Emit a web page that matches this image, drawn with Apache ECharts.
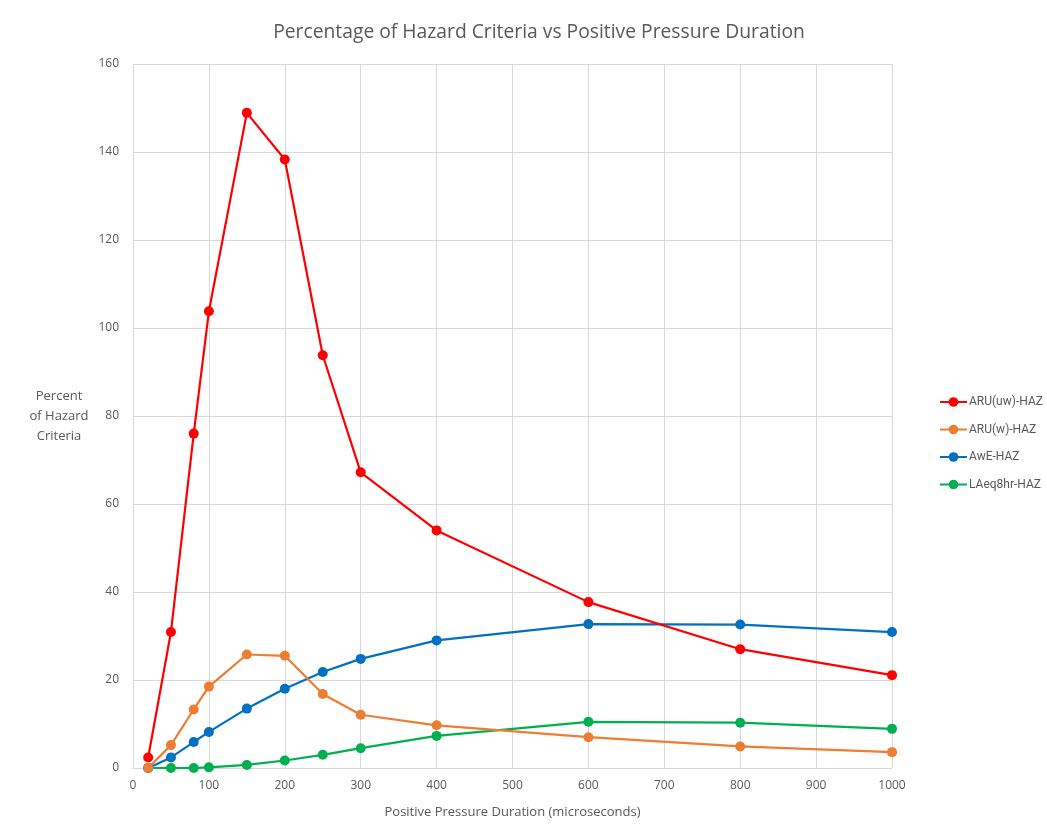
<!DOCTYPE html>
<html>
<head>
<meta charset="utf-8">
<script src="https://cdn.jsdelivr.net/npm/echarts@6/dist/echarts.min.js"></script>
<style>
html,body{margin:0;padding:0;background:#fff;}
#chart{width:1047px;height:837px;}
</style>
</head>
<body>
<div id="chart"></div>
<script>
const durations = [20, 50, 80, 100, 150, 200, 250, 300, 400, 600, 800, 1000];
const aruUw = [2.4, 30.9, 76.0, 103.8, 148.9, 138.3, 93.8, 67.2, 54.0, 37.7, 27.0, 21.1];
const aruW = [0.0, 5.2, 13.3, 18.5, 25.8, 25.5, 16.8, 12.1, 9.7, 7.0, 4.9, 3.6];
const awe = [0.0, 2.4, 5.9, 8.2, 13.5, 18.0, 21.8, 24.8, 29.0, 32.7, 32.6, 30.9];
const laeq = [0.0, 0.0, 0.0, 0.15, 0.7, 1.7, 3.0, 4.5, 7.3, 10.5, 10.3, 8.9];
const seriesNames = ['ARU(uw)-HAZ', 'ARU(w)-HAZ', 'AwE-HAZ', 'LAeq8hr-HAZ'];
const seriesColors = ['#FF0000', '#ED7D31', '#0070C0', '#00B050'];
const seriesData = [aruUw, aruW, awe, laeq];

const font = 'Open Sans, Liberation Sans, sans-serif';
const narrow = 'Roboto, Open Sans, sans-serif';
const chart = echarts.init(document.getElementById('chart'));
chart.setOption({
  animation: false,
  backgroundColor: '#fff',
  title: {
    text: 'Percentage of Hazard Criteria vs Positive Pressure Duration',
    left: 534, top: 18, textAlign: 'center',
    textStyle: {fontFamily: font, fontSize: 19.3, fontWeight: 'normal', color: '#595959'}
  },
  legend: {
    orient: 'vertical', left: 939, top: 396, itemGap: 15.5, padding: 0,
    itemWidth: 27, itemHeight: 12,
    data: seriesNames,
    textStyle: {fontFamily: narrow, fontSize: 12, color: '#595959', padding: [0,0,0,-3]}
  },
  grid: {left: 133, right: 155, top: 64, bottom: 69, containLabel: false},
  xAxis: {
    type: 'value', min: 0, max: 1000, interval: 100,
    name: 'Positive Pressure Duration (microseconds)',
    nameLocation: 'middle', nameGap: 38,
    nameTextStyle: {fontFamily: font, fontSize: 13, color: '#595959'},
    axisLine: {show: true, lineStyle: {color: '#D9D9D9'}},
    axisTick: {show: false},
    axisLabel: {fontFamily: font, fontSize: 12, color: '#595959', margin: 12, formatter: v => String(v)},
    splitLine: {show: true, lineStyle: {color: '#D9D9D9'}}
  },
  yAxis: {
    type: 'value', min: 0, max: 160, interval: 20,
    name: 'Percent\nof Hazard\nCriteria',
    nameLocation: 'middle', nameGap: 74, nameRotate: 0,
    nameTextStyle: {fontFamily: font, fontSize: 13, color: '#595959', lineHeight: 20, align: 'center'},
    axisLine: {show: false},
    axisTick: {show: false},
    axisLabel: {fontFamily: font, fontSize: 12, color: '#595959', margin: 14},
    splitLine: {show: true, lineStyle: {color: '#D9D9D9'}}
  },
  series: seriesNames.map((n, i) => ({
    name: n, type: 'line',
    data: durations.map((d, j) => [d, seriesData[i][j]]),
    symbol: 'circle', symbolSize: 10,
    lineStyle: {width: 2.2, color: seriesColors[i]},
    itemStyle: {color: seriesColors[i]},
    z: 10 - i
  }))
});
</script>
</body>
</html>
